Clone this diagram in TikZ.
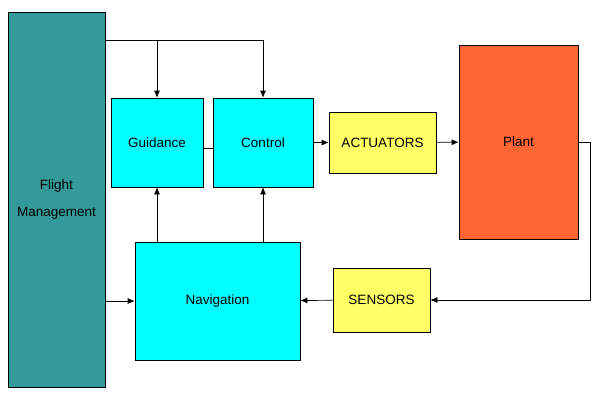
\documentclass[tikz,border=0pt]{standalone}
\usepackage{fontspec}
\setmainfont{Liberation Sans}
\usetikzlibrary{arrows.meta}
\definecolor{fmteal}{HTML}{339999}
\definecolor{gncyan}{HTML}{00FFFF}
\definecolor{hwyellow}{HTML}{FFFF66}
\definecolor{plantorange}{HTML}{FF6633}
\tikzstyle{block} = [rectangle, draw=black, line width=0.7pt, text centered, align=center, font=\fontsize{13.5}{16}\selectfont]
\tikzstyle{arrow} = [line width=0.7pt, ->, >={Latex[length=7pt,width=6pt]}]

\begin{document}
\begin{tikzpicture}[x=1pt,y=-1pt]
        \useasboundingbox [fill=white] (0,0) rectangle (600,400);
        \node (flight) [block, fill=fmteal, minimum width=97pt, minimum height=375pt, font=\fontsize{13.5}{27}\selectfont] at (56.5,199.5) {Flight\\Management};
        \node (guidance) [block, fill=gncyan, minimum width=92pt, minimum height=89pt] at (157,142.5) {Guidance};
        \node (control) [block, fill=gncyan, minimum width=100pt, minimum height=89pt] at (263,142.5) {Control};
        \node (actuators) [block, fill=hwyellow, minimum width=107pt, minimum height=61pt] at (382.5,142.5) {ACTUATORS};
        \node (plant) [block, fill=plantorange, minimum width=119pt, minimum height=194pt] at (518.5,142) {Plant};
        \node (navigation) [block, fill=gncyan, minimum width=165pt, minimum height=118pt] at (217.5,301) {Navigation};
        \node (sensors) [block, fill=hwyellow, minimum width=97pt, minimum height=64pt] at (381.5,300) {SENSORS};

        \coordinate (topg) at (157,40);
        \coordinate (topc) at (263,40);

        \draw [arrow] (flight.east |- topc) -- (topc) -- (control.north);
        \draw [arrow] (topg) -- (guidance.north);
        \draw [line width=0.7pt] ([yshift=-6pt]guidance.east) -- ([yshift=-6pt]control.west);
        \draw [arrow] (control) -- (actuators);
        \draw [arrow] (actuators) -- (plant);
        \draw [arrow] (plant.east) -- ++(12,0) |- (sensors.east);
        \draw [arrow] (sensors) -- (navigation);
        \draw [arrow] (flight.east |- navigation.west) -- (navigation.west);
        \draw [arrow] (guidance.south |- navigation.north) -- (guidance.south);
        \draw [arrow] (control.south |- navigation.north) -- (control.south);

        \end{tikzpicture}
\end{document}
